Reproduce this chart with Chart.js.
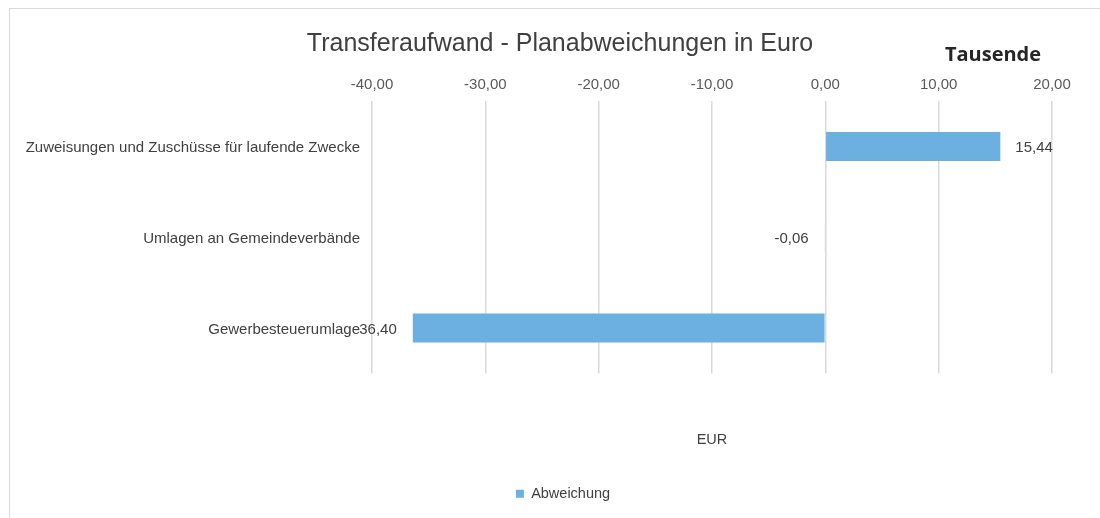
<!DOCTYPE html>
<html>
<head>
<meta charset="utf-8">
<script src="https://cdn.jsdelivr.net/npm/chart.js@4.4.1/dist/chart.umd.min.js"></script>
<style>
  html, body { margin: 0; padding: 0; background: #fff; overflow: hidden; }
  #wrap { position: relative; width: 1100px; height: 518px; }
  #frame { position: absolute; left: 9px; top: 8px; width: 1200px; height: 600px; border: 1px solid #d9d9d9; }
  canvas { position: absolute; left: 0; top: 0; }
</style>
</head>
<body>
<div id="wrap">
  <div id="frame"></div>
  <canvas id="transferChart" width="1100" height="518"></canvas>
</div>
<script>
// data (Tausend EUR)
const categories = [
    'Zuweisungen und Zuschüsse für laufende Zwecke',
    'Umlagen an Gemeindeverbände',
    'Gewerbesteuerumlage'
];
const abweichung = [15.44, -0.06, -36.40];
const xTicks = [-40, -30, -20, -10, 0, 10, 20];

const chartTitle = 'Transferaufwand - Planabweichungen in Euro';
const unitLabel = 'Tausende';
const axisLabel = 'EUR';

const FONT = '"Liberation Sans", Arial, sans-serif';
const fmt = v => v.toFixed(2).replace('.', ',');

// title, unit, axis label and value labels
const extraText = {
    id: 'extraText',
    afterLayout(chart) {
        // legend sits a bit right of centre in the original
        if (chart.legend) {
            chart.legend.left += 37;
            chart.legend.right += 37;
        }
    },
    afterDraw(chart) {
        const { ctx, chartArea } = chart;
        ctx.save();
        ctx.fillStyle = '#404040';
        ctx.textBaseline = 'middle';
        ctx.textAlign = 'center';
        ctx.font = '25px ' + FONT;
        ctx.fillText(chartTitle, 560, 44);
        ctx.font = 'bold 20px "Open Sans", sans-serif';
        ctx.fillStyle = '#262626';
        ctx.fillText(unitLabel, 993, 55);
        ctx.font = '14.5px ' + FONT;
        ctx.fillStyle = '#404040';
        ctx.fillText(axisLabel, (chartArea.left + chartArea.right) / 2, 440);

        ctx.font = '15px ' + FONT;
        const meta = chart.getDatasetMeta(0);
        meta.data.forEach((bar, i) => {
            const v = abweichung[i];
            if (v >= 0) {
                ctx.textAlign = 'left';
                ctx.fillText(fmt(v), bar.x + 15, bar.y + 1.5);
            } else {
                ctx.textAlign = 'right';
                ctx.fillText(fmt(v), bar.x - 16, bar.y + 1.5);
            }
        });
        ctx.restore();
    }
};

function initChart() {
    const ctx = document.getElementById('transferChart')?.getContext('2d');
    if (!ctx) return;

    new Chart(ctx, {
        type: 'bar',
        data: {
            labels: categories,
            datasets: [{
                label: 'Abweichung',
                data: abweichung,
                backgroundColor: '#6cafe1',
                borderWidth: 0,
                barPercentage: 0.32,
                categoryPercentage: 1
            }]
        },
        options: {
            indexAxis: 'y',
            responsive: false,
            animation: false,
            layout: { padding: { left: 0, right: 48, top: 0, bottom: 7 } },
            plugins: {
                title: { display: false },
                tooltip: { enabled: false },
                legend: {
                    position: 'bottom',
                    labels: {
                        boxWidth: 8,
                        boxHeight: 8,
                        padding: 8,
                        color: '#404040',
                        font: { size: 14.5, family: FONT }
                    }
                }
            },
            scales: {
                x: {
                    position: 'top',
                    min: -40,
                    max: 20,
                    afterBuildTicks: scale => { scale.ticks = xTicks.map(v => ({ value: v })); },
                    afterFit: scale => { scale.height = 101; },
                    grid: { color: '#d9d9d9', lineWidth: 1.5, drawTicks: false },
                    border: { display: false },
                    ticks: {
                        padding: 7,
                        color: '#595959',
                        font: { size: 15, family: FONT },
                        callback: v => fmt(v)
                    }
                },
                xb: {
                    axis: 'x',
                    position: 'bottom',
                    afterFit: scale => { scale.height = 105; },
                    grid: { display: false, drawTicks: false },
                    border: { display: false },
                    ticks: { display: false }
                },
                y: {
                    afterFit: scale => { scale.width = 372; },
                    grid: { display: false, drawTicks: false },
                    border: { display: false },
                    ticks: {
                        padding: 12,
                        labelOffset: 1.5,
                        color: '#404040',
                        font: { size: 15, family: FONT }
                    }
                }
            }
        },
        plugins: [extraText]
    });
}

document.addEventListener('DOMContentLoaded', () => {
    initChart();
});
</script>
</body>
</html>
